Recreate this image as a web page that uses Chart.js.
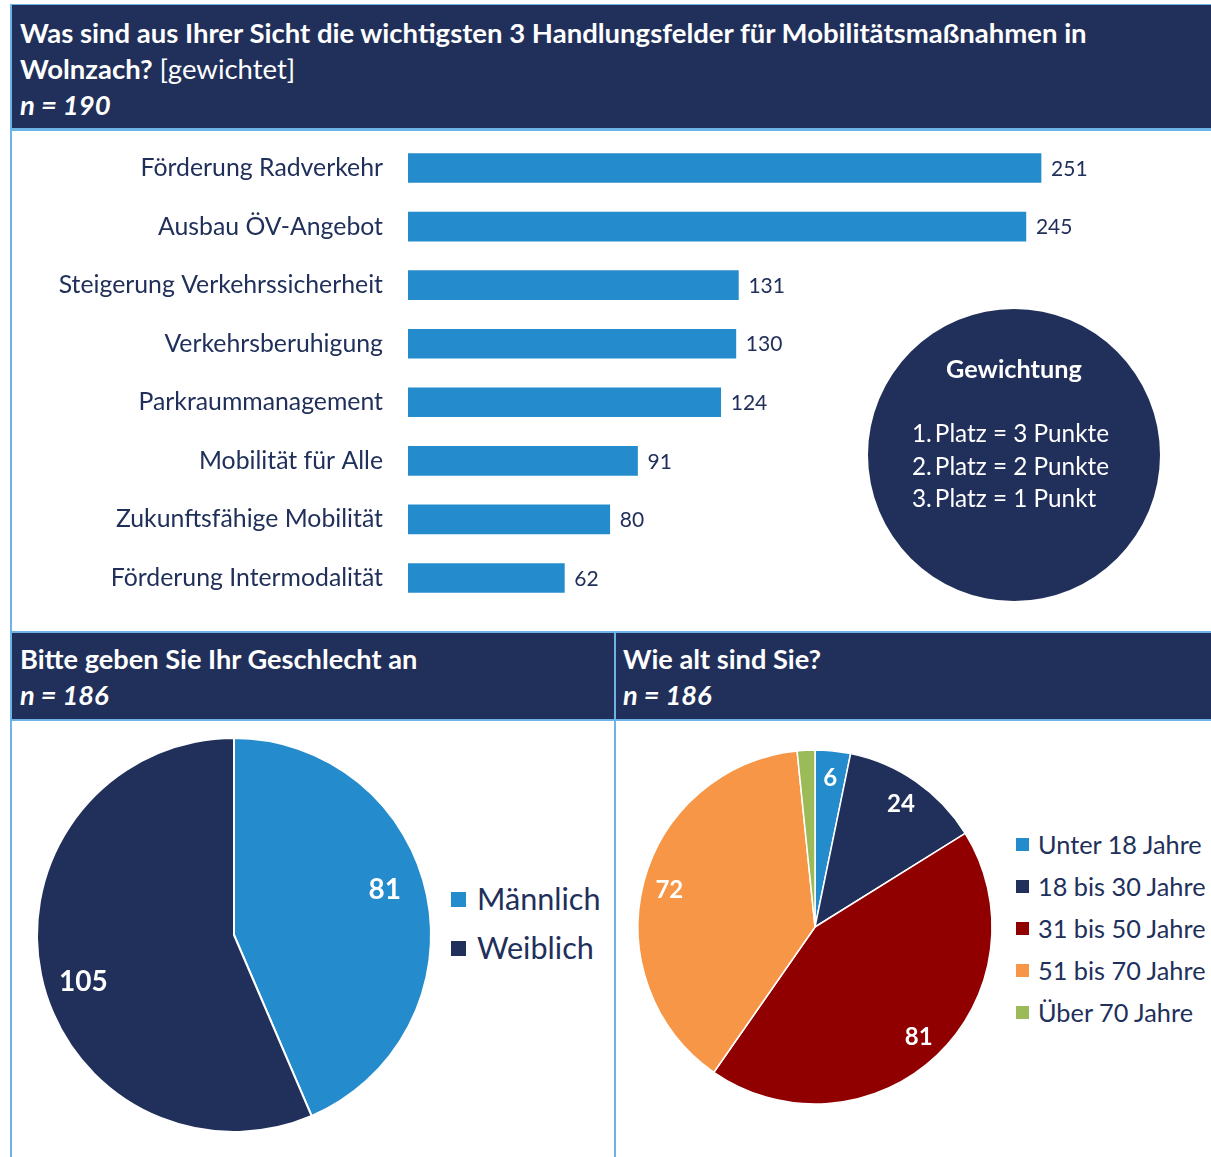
<!DOCTYPE html>
<html><head><meta charset="utf-8">
<script src="https://cdn.jsdelivr.net/npm/chart.js@4.4.0/dist/chart.umd.min.js"></script>
<style>
body{margin:0;background:#fff;}
#wrap{position:relative;width:1211px;height:1157px;overflow:hidden;font-family:Lato,'Open Sans',sans-serif;}
.abs{position:absolute;}
.hdr{position:absolute;background:#21305A;color:#fff;font-weight:700;font-size:27.5px;line-height:36px;box-sizing:border-box;white-space:nowrap;}
.reg{font-weight:400;}
.it{font-style:italic;}
.line{background:#6DB3E6;position:absolute;}
canvas{position:absolute;}
.leg{position:absolute;color:#21305A;white-space:nowrap;}
.sq{position:absolute;}
#gew{position:absolute;left:868px;top:309px;width:292px;height:292px;border-radius:50%;background:#21305A;color:#fff;}
</style></head>
<body><div id="wrap">
<div class="hdr" style="left:12px;top:5px;width:1199px;height:124px;padding:10px 0 0 8px">Was sind aus Ihrer Sicht die wichtigsten 3 Handlungsfelder für Mobilitätsmaßnahmen in<br>Wolnzach? <span class="reg">[gewichtet]</span><br><span class="it">n = 190</span></div>
<div class="line" style="left:10px;top:4px;width:1201px;height:1px"></div>
<div class="line" style="left:10px;top:128px;width:1201px;height:3px"></div>
<div class="line" style="left:10px;top:631px;width:1201px;height:2px"></div>
<div class="hdr" style="left:12px;top:633px;width:602px;height:86px;padding:8px 0 0 8px;font-size:27.2px">Bitte geben Sie Ihr Geschlecht an<br><span class="it">n = 186</span></div>
<div class="hdr" style="left:616px;top:633px;width:595px;height:86px;padding:8px 0 0 7px;font-size:27.2px">Wie alt sind Sie?<br><span class="it">n = 186</span></div>
<div class="line" style="left:10px;top:719px;width:1201px;height:2px"></div>
<div class="line" style="left:10px;top:4px;width:2px;height:1153px"></div>
<div class="line" style="left:614px;top:631px;width:2px;height:526px"></div>

<canvas id="bar" style="left:12px;top:131px;width:1199px;height:500px" width="1199" height="500"></canvas>
<div id="gew">
  <div class="abs" style="left:0;width:292px;top:44px;text-align:center;font-weight:700;font-size:25.3px;line-height:30px">Gewichtung</div>
  <div class="abs" style="left:44px;top:108px;font-size:24.3px;line-height:32.5px;white-space:nowrap">1.&thinsp;Platz = 3 Punkte<br>2.&thinsp;Platz = 2 Punkte<br>3.&thinsp;Platz = 1 Punkt</div>
</div>
<canvas id="gender" style="left:24px;top:725px;width:420px;height:420px" width="420" height="420"></canvas>
<canvas id="age" style="left:625px;top:737px;width:380px;height:380px" width="380" height="380"></canvas>
<div id="genderLeg"></div>
<div id="ageLeg"></div>
</div>
<script>
const barCategories = ["Förderung Radverkehr","Ausbau ÖV-Angebot","Steigerung Verkehrssicherheit","Verkehrsberuhigung","Parkraummanagement","Mobilität für Alle","Zukunftsfähige Mobilität","Förderung Intermodalität"];
const barValues = [251,245,131,130,124,91,80,62];

const genderLabels = ["Männlich","Weiblich"];
const genderValues = [81,105];

const ageLabels = ["Unter 18 Jahre","18 bis 30 Jahre","31 bis 50 Jahre","51 bis 70 Jahre","Über 70 Jahre"];
const ageValues = [6,24,81,72,3];

const NAVY = '#21305A', BLUE = '#248BCC';
const genderColors = [BLUE, NAVY];
const ageColors = [BLUE, NAVY, '#900000', '#F79646', '#9BBB59'];

Chart.defaults.font.family = "Lato, 'Open Sans', sans-serif";
Chart.defaults.animation = false;

const barValueLabels = {
  id: 'barValueLabels',
  afterDatasetsDraw(chart) {
    const ctx = chart.ctx;
    const meta = chart.getDatasetMeta(0);
    ctx.save();
    ctx.font = "21px Lato, 'Open Sans', sans-serif";
    ctx.fillStyle = NAVY;
    ctx.textBaseline = 'middle';
    ctx.textAlign = 'left';
    meta.data.forEach((el, i) => {
      ctx.fillText(String(chart.data.datasets[0].data[i]), el.x + 10, el.y + 1);
    });
    ctx.restore();
  }
};

const pieValueLabels = {
  id: 'pieValueLabels',
  afterDatasetsDraw(chart, args, opts) {
    const ctx = chart.ctx;
    const meta = chart.getDatasetMeta(0);
    const data = chart.data.datasets[0].data;
    ctx.save();
    ctx.font = opts.font;
    ctx.fillStyle = '#fff';
    ctx.textBaseline = 'middle';
    ctx.textAlign = 'center';
    meta.data.forEach((el, i) => {
      if (data[i] < opts.minValue) return;
      const mid = (el.startAngle + el.endAngle) / 2 + (opts.angleShift || 0);
      const r = el.outerRadius * opts.frac;
      ctx.fillText(String(data[i]), el.x + Math.cos(mid) * r, el.y + Math.sin(mid) * r + 1);
    });
    ctx.restore();
  }
};

new Chart(document.getElementById('bar'), {
  type: 'bar',
  data: { labels: barCategories, datasets: [{ data: barValues, backgroundColor: BLUE, barThickness: 29 }] },
  options: {
    indexAxis: 'y', responsive: false, maintainAspectRatio: false,
    layout: { padding: { left: 0, right: 46.4, top: 7.7, bottom: 23.7 } },
    plugins: { legend: { display: false }, tooltip: { enabled: false } },
    scales: {
      x: { display: false, min: 0, max: 300 },
      y: {
        grid: { display: false, drawTicks: false }, border: { display: false },
        ticks: { color: NAVY, font: { size: 24.8 }, padding: 25 },
        afterFit(s) { s.width = 396; s.paddingTop = 0; s.paddingBottom = 0; }
      }
    }
  },
  plugins: [barValueLabels]
});

new Chart(document.getElementById('gender'), {
  type: 'pie',
  data: { labels: genderLabels, datasets: [{ data: genderValues, backgroundColor: genderColors, borderColor: '#fff', borderWidth: 2, radius: 197 }] },
  options: {
    responsive: false,
    plugins: { legend: { display: false }, tooltip: { enabled: false },
      pieValueLabels: { font: "bold 28px Lato, 'Open Sans', sans-serif", frac: 0.8, minValue: 5, angleShift: -0.095 } }
  },
  plugins: [pieValueLabels]
});

new Chart(document.getElementById('age'), {
  type: 'pie',
  data: { labels: ageLabels, datasets: [{ data: ageValues, backgroundColor: ageColors, borderColor: '#fff', borderWidth: 1.5, radius: 177 }] },
  options: {
    responsive: false,
    plugins: { legend: { display: false }, tooltip: { enabled: false },
      pieValueLabels: { font: "bold 24px Lato, 'Open Sans', sans-serif", frac: 0.85, minValue: 5 } }
  },
  plugins: [pieValueLabels]
});

// HTML legends built from the arrays
function buildLegend(container, labels, colors, cfg) {
  labels.forEach((lab, i) => {
    const cy = cfg.y0 + i * cfg.dy;
    const sq = document.createElement('div');
    sq.className = 'sq';
    sq.style.cssText = `left:${cfg.sqX}px;top:${cy - cfg.sq/2}px;width:${cfg.sq}px;height:${cfg.sq}px;background:${colors[i]}`;
    container.appendChild(sq);
    const t = document.createElement('div');
    t.className = 'leg';
    t.style.cssText = `left:${cfg.tX}px;top:${cy - cfg.lh/2}px;font-size:${cfg.fs}px;line-height:${cfg.lh}px`;
    t.textContent = lab;
    container.appendChild(t);
  });
}
buildLegend(document.getElementById('genderLeg'), genderLabels, genderColors, { y0: 899, dy: 49, sqX: 451, sq: 15, tX: 477, fs: 30.6, lh: 36 });
buildLegend(document.getElementById('ageLeg'), ageLabels, ageColors, { y0: 844, dy: 42, sqX: 1016, sq: 13, tX: 1038, fs: 25.3, lh: 30 });
</script>
</body></html>
